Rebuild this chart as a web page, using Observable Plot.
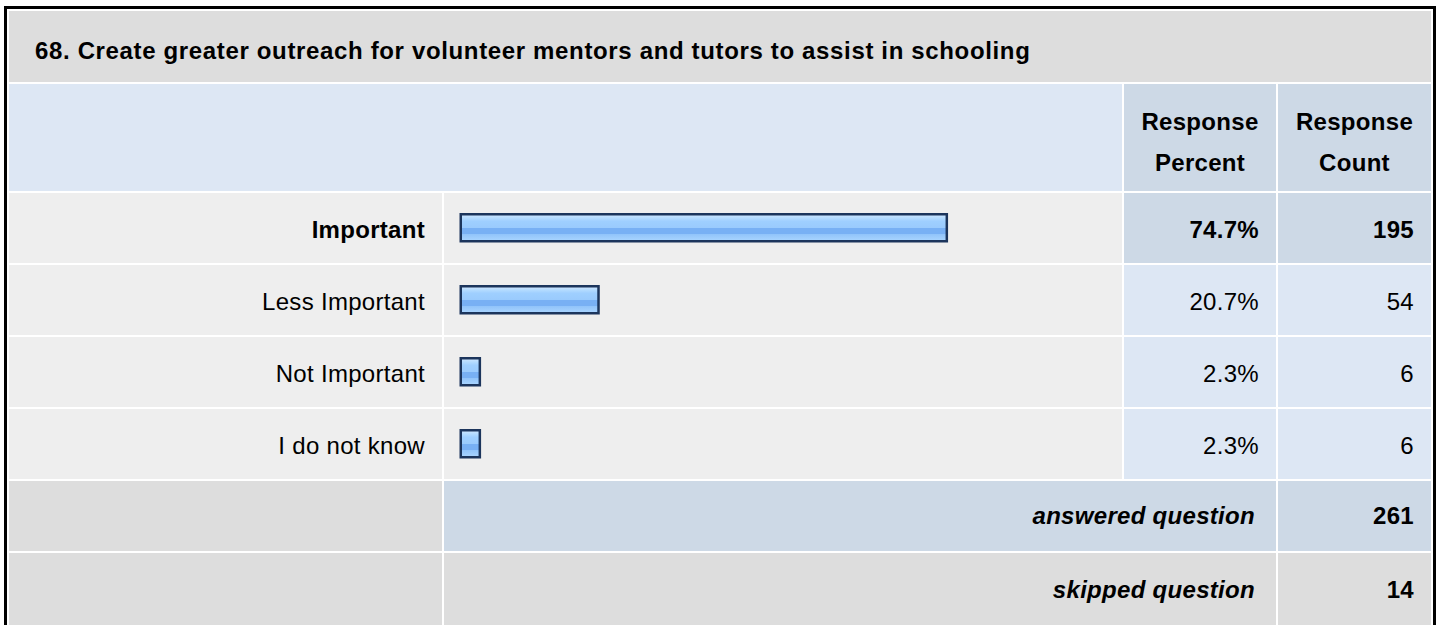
<!DOCTYPE html>
<html>
<head>
<meta charset="utf-8">
<script src="https://cdn.jsdelivr.net/npm/d3@7"></script>
<script src="https://cdn.jsdelivr.net/npm/@observablehq/plot@0.6"></script>
<style>
  html, body { margin: 0; padding: 0; background: #fff; }
  body { width: 1437px; height: 625px; overflow: hidden; position: relative; }
  #t {
    position: absolute; left: 4px; top: 6px;
    border: 3px solid #000;
    border-collapse: separate; border-spacing: 2px;
    table-layout: fixed;
    font-family: "Liberation Sans", Arial, Helvetica, sans-serif;
    font-size: 24px; letter-spacing: 0.3px; color: #000;
  }
  #t td { padding: 0; vertical-align: middle; overflow: hidden; white-space: nowrap; }
  .title td { background: #dddddd; height: 71px; font-weight: bold; padding: 8px 0 0 26px !important; letter-spacing: 0.65px; box-sizing: border-box; }
  .hdr td { height: 107px; }
  .hdr .blank { background: #dde7f4; }
  .hdr .h { background: #cdd9e6; text-align: center; font-weight: bold; line-height: 41px; padding-top: 9px !important; box-sizing: border-box; }
  .row td { height: 70px; }
  .row .lab { background: #eeeeee; text-align: right; padding: 3px 17px 0 0 !important; box-sizing: border-box; }
  .row .bar { background: #eeeeee; }
  .row .num { background: #dde7f4; text-align: right; padding: 3px 17px 0 0 !important; box-sizing: border-box; }
  .row.first td { font-weight: bold; }
  .row.first .num { background: #cdd9e6; }
  .foot td { height: 70px; font-weight: bold; }
  .foot .lab { background: #dddddd; }
  .foot .mid { text-align: right; font-style: italic; padding-right: 21px !important; }
  .foot .num { text-align: right; padding-right: 17px !important; }
  .ans .mid, .ans .num { background: #cdd9e6; }
  .skp .mid, .skp .num { background: #dddddd; }
  .skp td { height: 74px; }
  .bar svg { display: block; }
</style>
</head>
<body>
<svg width="0" height="0" style="position:absolute">
  <defs>
    <linearGradient id="barGrad" x1="0" y1="0" x2="0" y2="1">
      <stop offset="0%" stop-color="#d2e9ff"/>
      <stop offset="14%" stop-color="#b4dbff"/>
      <stop offset="26%" stop-color="#9fcfff"/>
      <stop offset="50%" stop-color="#9acbfd"/>
      <stop offset="51%" stop-color="#78b0f4"/>
      <stop offset="72%" stop-color="#78b0f4"/>
      <stop offset="73%" stop-color="#90c3fa"/>
      <stop offset="100%" stop-color="#abd6ff"/>
    </linearGradient>
  </defs>
</svg>
<table id="t">
  <colgroup>
    <col style="width:433px"><col style="width:678px"><col style="width:152px"><col style="width:153px">
  </colgroup>
  <tbody id="tb"></tbody>
</table>
<script>
const title = "68. Create greater outreach for volunteer mentors and tutors to assist in schooling";
const headers = ["Response\nPercent", "Response\nCount"];
const categories = ["Important", "Less Important", "Not Important", "I do not know"];
const percents = [74.7, 20.7, 2.3, 2.3];
const counts = [195, 54, 6, 6];
const summaryLabels = ["answered question", "skipped question"];
const summaryValues = [261, 14];

const tb = document.getElementById("tb");
function el(tag, cls, text) {
  const e = document.createElement(tag);
  if (cls) e.className = cls;
  if (text != null) e.textContent = text;
  return e;
}
// title row
let tr = el("tr", "title");
let td = el("td", null, title); td.colSpan = 4; tr.appendChild(td); tb.appendChild(tr);
// header row
tr = el("tr", "hdr");
td = el("td", "blank"); td.colSpan = 2; tr.appendChild(td);
for (const h of headers) {
  td = el("td", "h");
  td.innerHTML = h.split("\n").join("<br>");
  tr.appendChild(td);
}
tb.appendChild(tr);

const data = categories.map((c, i) => ({category: c, percent: percents[i], count: counts[i]}));

data.forEach((d, i) => {
  const r = el("tr", "row" + (i === 0 ? " first" : ""));
  r.appendChild(el("td", "lab", d.category));
  const barCell = el("td", "bar");
  const chart = Plot.plot({
    width: 678,
    height: 70,
    margin: 0,
    style: {background: "transparent", overflow: "visible"},
    x: {domain: [0, 100], range: [18.5, 663.5], axis: null},
    marks: [
      Plot.barX([d], {
        x1: 0,
        x2: "percent",
        fill: "url(#barGrad)",
        stroke: "#1c355c",
        strokeWidth: 2.5,
        insetLeft: -1.75,
        insetRight: -2.5,
        insetTop: 21.25,
        insetBottom: 21.75
      })
    ]
  });
  barCell.appendChild(chart);
  r.appendChild(barCell);
  r.appendChild(el("td", "num", d.percent.toFixed(1) + "%"));
  r.appendChild(el("td", "num", String(d.count)));
  tb.appendChild(r);
});

summaryLabels.forEach((lab, i) => {
  const r = el("tr", "foot " + (i === 0 ? "ans" : "skp"));
  r.appendChild(el("td", "lab"));
  const m = el("td", "mid", lab); m.colSpan = 2; r.appendChild(m);
  r.appendChild(el("td", "num", String(summaryValues[i])));
  tb.appendChild(r);
});
</script>
</body>
</html>
